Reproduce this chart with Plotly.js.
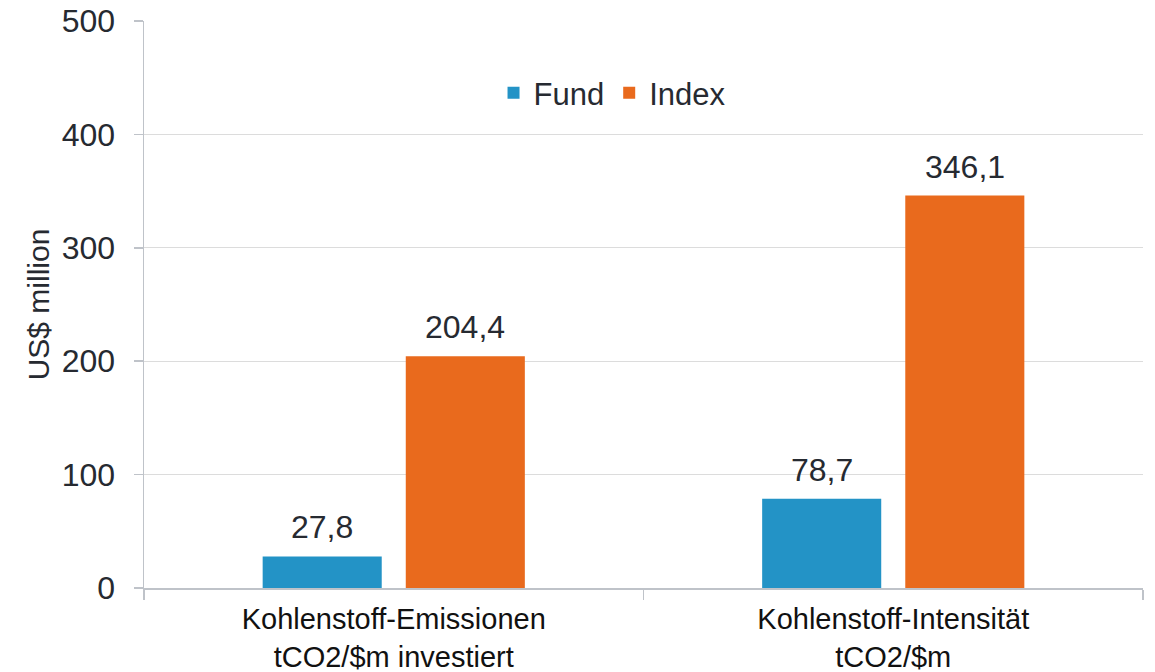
<!DOCTYPE html>
<html>
<head>
<meta charset="utf-8">
<script src="https://cdn.plot.ly/plotly-3.0.1.min.js"></script>
<style>html,body{margin:0;padding:0;background:#fff;}#chart{width:1155px;height:672px;}</style>
</head>
<body>
<div id="chart"></div>
<script>
var categories = ["Kohlenstoff-Emissionen<br>tCO2/$m investiert", "Kohlenstoff-Intensität<br>tCO2/$m"];
var fundValues = [27.8, 78.7];
var indexValues = [204.4, 346.1];
var seriesNames = ["Fund", "Index"];
var yTicks = [0, 100, 200, 300, 400, 500];

var FONT = "Arial, 'Liberation Sans', sans-serif";
var numColor = "#262a31";

function fmt(v) { return v.toFixed(1).replace(".", ","); }

var traces = [
  {type: "bar", name: seriesNames[0], x: categories, y: fundValues,
   marker: {color: "#2393c6"}, hoverinfo: "none"},
  {type: "bar", name: seriesNames[1], x: categories, y: indexValues,
   marker: {color: "#e96a1d"}, hoverinfo: "none"}
];

var annotations = [];
var series = [fundValues, indexValues];
var shifts = [-71.5, 71.5];
for (var s = 0; s < series.length; s++) {
  for (var i = 0; i < categories.length; i++) {
    annotations.push({
      x: categories[i], y: series[s][i], xref: "x", yref: "y",
      text: fmt(series[s][i]), showarrow: false,
      xanchor: "center", yanchor: "bottom", xshift: shifts[s], yshift: 9,
      font: {family: FONT, size: 32, color: numColor}
    });
  }
}

var layout = {
  width: 1155, height: 672,
  margin: {l: 144, r: 12, t: 21, b: 84},
  paper_bgcolor: "#ffffff", plot_bgcolor: "#ffffff",
  barmode: "group", bargap: 0.427, bargroupgap: 0.168,
  showlegend: true,
  legend: {orientation: "h", x: 0.469, xanchor: "center", y: 0.873, yanchor: "middle",
           font: {family: FONT, size: 31, color: numColor}, itemclick: false,
           bgcolor: "rgba(0,0,0,0)"},
  xaxis: {
    type: "category", showline: true, linecolor: "#bfc3c9", linewidth: 1.5,
    ticks: "outside", tickson: "boundaries", ticklen: 10, tickcolor: "#bfc3c9", tickwidth: 1.5,
    tickfont: {family: FONT, size: 29, color: "#111111"}, ticklabelstandoff: 5,
    showgrid: false, zeroline: false, fixedrange: true
  },
  yaxis: {
    range: [0, 500], tickvals: yTicks, ticktext: yTicks.map(String),
    showline: true, linecolor: "#bfc3c9", linewidth: 1.5,
    ticks: "outside", ticklen: 9, tickcolor: "#bfc3c9", tickwidth: 1.5,
    showgrid: true, gridcolor: "#dcdcdc", gridwidth: 1.2, zeroline: false,
    tickfont: {family: FONT, size: 32, color: numColor}, ticklabelstandoff: 12,
    title: {text: "US$ million", font: {family: FONT, size: 30, color: numColor}, standoff: 3},
    fixedrange: true
  },
  annotations: annotations
};

Plotly.newPlot("chart", traces, layout, {staticPlot: true, displayModeBar: false});
</script>
</body>
</html>
